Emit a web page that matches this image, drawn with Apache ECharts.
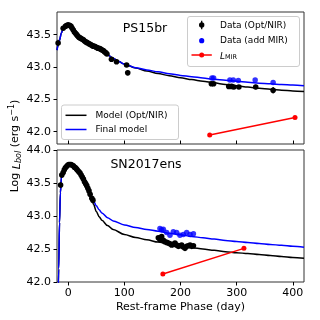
<!DOCTYPE html>
<html><head><meta charset="utf-8">
<script src="https://cdn.jsdelivr.net/npm/echarts@6/dist/echarts.min.js"></script>
<style>html,body{margin:0;padding:0;background:#fff}#c{width:320px;height:320px}</style>
</head><body><div id="c"></div>
<script>
// ---- tick labels ----
const xTicks = [0, 100, 200, 300, 400];
const topYTicks = [42.0, 42.5, 43.0, 43.5];
const botYTicks = [42.0, 42.5, 43.0, 43.5, 44.0];

// ---- PS15br (top panel) ----
const psOptPhase = [-18,-9,-5,-3,-1,1,3,5,7,9,11,13,15,17,19,21,23,25,27,29,31,33,35,37,39,41,43,45,47,49,51,53,55,57,59,61,63,65,67,69,77,86,104,106,255,259,286,291,295,304,334,365];
const psOptLum   = [43.37,43.60,43.63,43.64,43.65,43.65,43.64,43.63,43.60,43.57,43.54,43.52,43.50,43.48,43.46,43.45,43.44,43.43,43.42,43.40,43.39,43.38,43.37,43.36,43.35,43.34,43.33,43.32,43.32,43.31,43.30,43.29,43.29,43.28,43.27,43.26,43.25,43.23,43.22,43.20,43.12,43.08,43.03,42.91,42.74,42.74,42.70,42.70,42.69,42.69,42.69,42.64];
const psOptErr   = [0.05,0.01,0.01,0.01,0.01,0.01,0.01,0.01,0.01,0.01,0.01,0.01,0.01,0.01,0.01,0.01,0.01,0.01,0.01,0.01,0.01,0.01,0.01,0.01,0.01,0.01,0.01,0.01,0.01,0.01,0.01,0.01,0.01,0.01,0.01,0.01,0.01,0.01,0.01,0.01,0.01,0.01,0.03,0.04,0.03,0.03,0.03,0.03,0.03,0.03,0.035,0.05];
const psMirPhase = [256, 259, 288, 294, 303, 333, 365];
const psMirLum   = [42.83, 42.83, 42.80, 42.80, 42.79, 42.80, 42.76];
const psLmirPhase = [252, 404];
const psLmirLum   = [41.95, 42.22];
const psModelPhase = [-20,-16,-12,-8,-4,0,4,8,12,16,20,25,30,40,50,60,70,80,90,100,120,140,160,180,200,220,240,260,280,300,320,340,360,380,400,420];
const psModelOpt   = [43.26,43.40,43.53,43.62,43.665,43.675,43.655,43.61,43.555,43.51,43.47,43.43,43.40,43.35,43.30,43.25,43.19,43.135,43.085,43.045,42.985,42.94,42.90,42.865,42.835,42.805,42.78,42.755,42.73,42.71,42.69,42.67,42.655,42.64,42.63,42.62];
const psModelFinal = [43.26,43.40,43.53,43.62,43.665,43.675,43.655,43.61,43.555,43.51,43.47,43.43,43.40,43.35,43.30,43.25,43.19,43.135,43.085,43.045,42.99,42.955,42.925,42.895,42.87,42.85,42.83,42.81,42.795,42.78,42.765,42.75,42.74,42.73,42.72,42.71];

// ---- SN2017ens (bottom panel) ----
const snOptPhase = [-13.6,-11.5,-9,-7,-5,-3,-1,1,3,5,7,9,11,13,15,17,19,21,23,25,27,29,31,33,35,37,39,42,44,160.5,163.5,166.4,169.5,172.3,175.5,178.3,181.3,184.2,187.2,190.2,193.1,196.1,199,202,205,208,211,214,217,220,223];
const snOptLum   = [43.47,43.62,43.66,43.70,43.73,43.75,43.77,43.78,43.78,43.78,43.77,43.76,43.74,43.73,43.71,43.69,43.67,43.65,43.62,43.59,43.56,43.52,43.49,43.46,43.42,43.38,43.33,43.27,43.24,42.67,42.64,42.69,42.63,42.61,42.60,42.59,42.58,42.56,42.57,42.59,42.56,42.54,42.55,42.56,42.53,42.51,42.54,42.55,42.56,42.54,42.55];
const snOptErr   = [0.04,0.01,0.01,0.01,0.01,0.01,0.01,0.01,0.01,0.01,0.01,0.01,0.01,0.01,0.01,0.01,0.01,0.01,0.01,0.01,0.01,0.01,0.01,0.01,0.01,0.01,0.01,0.01,0.01,0.01,0.01,0.01,0.01,0.01,0.01,0.01,0.01,0.01,0.01,0.01,0.01,0.01,0.01,0.01,0.01,0.01,0.01,0.01,0.01,0.01,0.01];
const snMirPhase = [163.4, 166.4, 169.4, 175.3, 181.2, 187.2, 193.1, 199, 205, 211, 217, 223];
const snMirLum   = [42.81, 42.79, 42.80, 42.75, 42.71, 42.76, 42.75, 42.71, 42.72, 42.75, 42.72, 42.73];
const snLmirPhase = [168.6, 313];
const snLmirLum   = [42.12, 42.51];
const snModelPhase = [-18.5,-17,-15.5,-14,-12,-10,-7,-4,0,4,8,12,16,20,25,30,35,40,45,50,55,60,70,80,100,120,140,160,180,200,220,240,260,280,300,320,340,360,380,400,420];
const snModelOpt   = [41.5,42.2,42.9,43.35,43.60,43.68,43.73,43.76,43.78,43.78,43.76,43.73,43.69,43.64,43.57,43.49,43.41,43.32,43.18,43.07,42.99,42.935,42.855,42.795,42.72,42.675,42.64,42.605,42.575,42.545,42.52,42.50,42.48,42.46,42.445,42.43,42.415,42.40,42.385,42.37,42.36];
const snModelFinal = [41.5,42.2,42.9,43.35,43.60,43.68,43.73,43.76,43.78,43.78,43.76,43.73,43.69,43.64,43.57,43.49,43.41,43.32,43.23,43.155,43.095,43.045,42.975,42.925,42.865,42.825,42.795,42.77,42.74,42.715,42.69,42.67,42.65,42.63,42.615,42.60,42.585,42.57,42.555,42.54,42.525];

// ---- build ----
const FONT = 'DejaVu Sans';
const zip2 = (a, b) => a.map((v, i) => [v, b[i]]);
const zip3 = (a, b, c) => a.map((v, i) => [v, b[i], c[i]]);

function errRender(params, api) {
  const x = api.value(0), y = api.value(1), e = api.value(2);
  const p = api.coord([x, y]);
  const lo = api.coord([x, y - e]);
  const hi = api.coord([x, y + e]);
  return { type: 'group', children: [
    { type: 'line', shape: { x1: p[0], y1: lo[1], x2: p[0], y2: hi[1] }, style: { stroke: '#000', lineWidth: 1.3 } },
    { type: 'circle', shape: { cx: p[0], cy: p[1], r: 2.8 }, style: { fill: '#000' } }
  ]};
}

const G = [ { left: 57, right: 16, top: 12, height: 132 }, { left: 57, right: 16, top: 150, height: 132 } ];
const grids = G.map(g => Object.assign({ show: true, borderColor: '#333', borderWidth: 1, backgroundColor: 'transparent' }, g));

function xAx(i, showLabels) {
  return {
    type: 'value', gridIndex: i, min: -20, max: 420,
    axisLine: { show: false, onZero: false }, splitLine: { show: false },
    axisTick: { show: true, inside: !showLabels, length: 3.5, customValues: xTicks, lineStyle: { color: '#000', width: 1 } },
    axisLabel: { show: showLabels, customValues: xTicks, color: '#000', fontFamily: FONT, fontSize: 11, margin: 6 }
  };
}
function yAx(i, min, max, ticks) {
  return {
    type: 'value', gridIndex: i, min: min, max: max,
    axisLine: { show: false, onZero: false }, splitLine: { show: false },
    axisTick: { show: true, length: 3.5, customValues: ticks, lineStyle: { color: '#000', width: 1 } },
    axisLabel: { customValues: ticks, color: '#000', fontFamily: FONT, fontSize: 11, margin: 6, formatter: v => v.toFixed(1) }
  };
}

const lineOpts = { smooth: 0.3, smoothMonotone: 'x', showSymbol: false, clip: true };
const series = [
  Object.assign({ type: 'line', xAxisIndex: 0, yAxisIndex: 0, data: zip2(psModelPhase, psModelOpt), lineStyle: { color: '#000', width: 1.5 }, z: 2 }, lineOpts),
  Object.assign({ type: 'line', xAxisIndex: 0, yAxisIndex: 0, data: zip2(psModelPhase, psModelFinal), lineStyle: { color: '#0000ff', width: 1.5 }, z: 3 }, lineOpts),
  { type: 'custom', xAxisIndex: 0, yAxisIndex: 0, data: zip3(psOptPhase, psOptLum, psOptErr), renderItem: errRender, encode: { x: 0, y: 1 }, z: 4 },
  { type: 'scatter', xAxisIndex: 0, yAxisIndex: 0, data: zip2(psMirPhase, psMirLum), symbolSize: 5.5, itemStyle: { color: '#0000ff' }, z: 5 },
  { type: 'line', xAxisIndex: 0, yAxisIndex: 0, data: zip2(psLmirPhase, psLmirLum), symbol: 'circle', symbolSize: 5, lineStyle: { color: '#ff0000', width: 1.5 }, itemStyle: { color: '#ff0000' }, z: 5 },

  Object.assign({ type: 'line', xAxisIndex: 1, yAxisIndex: 1, data: zip2(snModelPhase, snModelOpt), lineStyle: { color: '#000', width: 1.5 }, z: 2 }, lineOpts),
  Object.assign({ type: 'line', xAxisIndex: 1, yAxisIndex: 1, data: zip2(snModelPhase, snModelFinal), lineStyle: { color: '#0000ff', width: 1.5 }, z: 3 }, lineOpts),
  { type: 'custom', xAxisIndex: 1, yAxisIndex: 1, data: zip3(snOptPhase, snOptLum, snOptErr), renderItem: errRender, encode: { x: 0, y: 1 }, z: 4 },
  { type: 'scatter', xAxisIndex: 1, yAxisIndex: 1, data: zip2(snMirPhase, snMirLum), symbolSize: 5.5, itemStyle: { color: '#0000ff' }, z: 5 },
  { type: 'line', xAxisIndex: 1, yAxisIndex: 1, data: zip2(snLmirPhase, snLmirLum), symbol: 'circle', symbolSize: 5, lineStyle: { color: '#ff0000', width: 1.5 }, itemStyle: { color: '#ff0000' }, z: 5 }
];

const txt = (x, y, text, extra) => ({ type: 'text', x: x, y: y, z: 101, style: Object.assign({ text: text, fill: '#000', font: '9px "DejaVu Sans"', fontFamily: FONT, fontSize: 9, textVerticalAlign: 'middle' }, extra || {}) });

const graphic = [
  // legend 1 (top right)
  { type: 'rect', z: 100, shape: { x: 187.5, y: 16.5, width: 112, height: 50, r: 2.5 }, style: { fill: 'rgba(255,255,255,0.8)', stroke: '#cccccc', lineWidth: 1 } },
  { type: 'line', z: 101, shape: { x1: 201.7, y1: 20.7, x2: 201.7, y2: 29.3 }, style: { stroke: '#000', lineWidth: 1.3 } },
  { type: 'circle', z: 101, shape: { cx: 201.7, cy: 25, r: 2.7 }, style: { fill: '#000' } },
  txt(220, 25.5, 'Data (Opt/NIR)'),
  { type: 'circle', z: 101, shape: { cx: 201.7, cy: 40.7, r: 2.6 }, style: { fill: '#0000ff' } },
  txt(220, 41, 'Data (add MIR)'),
  { type: 'line', z: 101, shape: { x1: 191.5, y1: 55, x2: 211.8, y2: 55 }, style: { stroke: '#ff0000', lineWidth: 1.5 } },
  { type: 'circle', z: 101, shape: { cx: 201.7, cy: 55, r: 2.5 }, style: { fill: '#ff0000' } },
  { type: 'text', x: 220, y: 55, z: 101, style: { text: '{i|L}{s|MIR}', fill: '#000', textVerticalAlign: 'middle', rich: { i: { fontFamily: FONT, fontSize: 9, fontStyle: 'italic', verticalAlign: 'bottom', lineHeight: 12 }, s: { fontFamily: FONT, fontSize: 6.5, verticalAlign: 'bottom', lineHeight: 9 } } } },
  // legend 2 (lower left of top panel)
  { type: 'rect', z: 100, shape: { x: 61.5, y: 105, width: 117, height: 34.5, r: 2.5 }, style: { fill: 'rgba(255,255,255,0.8)', stroke: '#cccccc', lineWidth: 1 } },
  { type: 'line', z: 101, shape: { x1: 65.5, y1: 115.3, x2: 86.5, y2: 115.3 }, style: { stroke: '#000', lineWidth: 1.5 } },
  txt(95.5, 115.5, 'Model (Opt/NIR)'),
  { type: 'line', z: 101, shape: { x1: 65.5, y1: 129.5, x2: 86.5, y2: 129.5 }, style: { stroke: '#0000ff', lineWidth: 1.5 } },
  txt(95.5, 129.7, 'Final model'),
  // panel titles
  txt(145, 28.5, 'PS15br', { fontSize: 12.5, font: '12.5px "DejaVu Sans"', textAlign: 'center' }),
  txt(146, 165, 'SN2017ens', { fontSize: 12.5, font: '12.5px "DejaVu Sans"', textAlign: 'center' }),
  // axis labels
  txt(180.5, 307.5, 'Rest-frame Phase (day)', { fontSize: 11, font: '11px "DejaVu Sans"', textAlign: 'center' }),
  { type: 'text', x: 15, y: 146, rotation: Math.PI / 2, z: 101, style: { text: 'Log {i|L}{s|bol} (erg s{p|−1})', fill: '#000', fontFamily: FONT, fontSize: 11, textAlign: 'center', textVerticalAlign: 'middle',
      rich: { i: { fontFamily: FONT, fontSize: 11, fontStyle: 'italic', verticalAlign: 'bottom', lineHeight: 15 },
              s: { fontFamily: FONT, fontSize: 8, fontStyle: 'italic', verticalAlign: 'bottom', lineHeight: 11 },
              p: { fontFamily: FONT, fontSize: 8, verticalAlign: 'top', lineHeight: 11 } } } }
];

const chart = echarts.init(document.getElementById('c'), null, { renderer: 'canvas' });
chart.setOption({
  animation: false,
  textStyle: { fontFamily: FONT },
  grid: grids,
  xAxis: [xAx(0, false), xAx(1, true)],
  yAxis: [yAx(0, 41.81, 43.85, topYTicks), yAx(1, 42, 44, botYTicks)],
  series: series,
  graphic: graphic
});
</script></body></html>
